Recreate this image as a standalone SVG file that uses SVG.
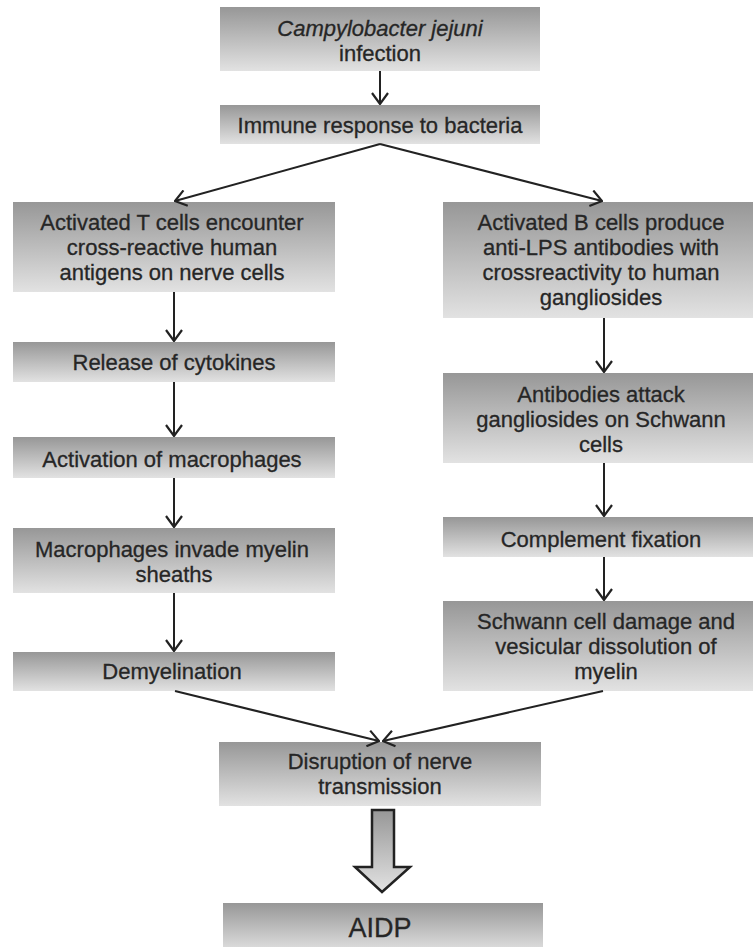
<svg xmlns="http://www.w3.org/2000/svg" width="753" height="947" viewBox="0 0 753 947">
<style>
  .box { fill: url(#g); }
  .t { font-family: "Liberation Sans", Arial, sans-serif; font-size: 22px; fill: #262626; stroke: #262626; stroke-width: 0.3; text-anchor: middle; }
  .c { stroke: #222; stroke-width: 2; fill: none; }
</style>
<defs>
  <linearGradient id="g" x1="0" y1="0" x2="0" y2="1">
    <stop offset="0" stop-color="#979797"/>
    <stop offset="1" stop-color="#e2e2e2"/>
  </linearGradient>
  <marker id="ah" markerUnits="userSpaceOnUse" viewBox="0 0 13 18" refX="12" refY="9" markerWidth="13" markerHeight="18" orient="auto">
    <path d="M1,1 L12,9 L1,17" fill="none" stroke="#222" stroke-width="2.2"/>
  </marker>
</defs>
<rect width="753" height="947" fill="#fff"/>

<g id="n1"><rect class="box" x="220" y="7" width="320" height="64"/>
<text class="t" x="380" y="36" font-style="italic">Campylobacter jejuni</text>
<text class="t" x="380" y="61">infection</text></g>

<g id="n2"><rect class="box" x="220" y="105" width="320" height="39"/>
<text class="t" x="380" y="133">Immune response to bacteria</text></g>

<g id="n3"><rect class="box" x="13" y="202" width="322" height="90"/>
<text class="t" x="172" y="230">Activated T cells encounter</text>
<text class="t" x="172" y="255">cross-reactive human</text>
<text class="t" x="172" y="280">antigens on nerve cells</text></g>

<g id="n4"><rect class="box" x="443" y="202" width="320" height="116"/>
<text class="t" x="601" y="230">Activated B cells produce</text>
<text class="t" x="601" y="255">anti-LPS antibodies with</text>
<text class="t" x="601" y="280">crossreactivity to human</text>
<text class="t" x="601" y="305">gangliosides</text></g>

<g id="n5"><rect class="box" x="13" y="342" width="322" height="40"/>
<text class="t" x="174" y="370">Release of cytokines</text></g>

<g id="n6"><rect class="box" x="443" y="373" width="320" height="90"/>
<text class="t" x="601" y="402">Antibodies attack</text>
<text class="t" x="601" y="427">gangliosides on Schwann</text>
<text class="t" x="601" y="452">cells</text></g>

<g id="n7"><rect class="box" x="13" y="437" width="322" height="41"/>
<text class="t" x="172" y="467">Activation of macrophages</text></g>

<g id="n8"><rect class="box" x="443" y="517" width="320" height="40"/>
<text class="t" x="601" y="547">Complement fixation</text></g>

<g id="n9"><rect class="box" x="13" y="528" width="322" height="65"/>
<text class="t" x="172" y="557">Macrophages invade myelin</text>
<text class="t" x="174" y="582">sheaths</text></g>

<g id="n10"><rect class="box" x="443" y="601" width="320" height="90"/>
<text class="t" x="606" y="629">Schwann cell damage and</text>
<text class="t" x="606" y="654">vesicular dissolution of</text>
<text class="t" x="606" y="679">myelin</text></g>

<g id="n11"><rect class="box" x="13" y="652" width="322" height="39"/>
<text class="t" x="172" y="679">Demyelination</text></g>

<g id="n12"><rect class="box" x="219" y="742" width="322" height="64"/>
<text class="t" x="380" y="769">Disruption of nerve</text>
<text class="t" x="380" y="794">transmission</text></g>

<g id="n13"><rect class="box" x="223" y="903" width="320" height="50"/>
<text class="t" x="380" y="937" style="font-size:27px">AIDP</text></g>

<g id="connectors">
  <line class="c" x1="380" y1="71" x2="380" y2="104" marker-end="url(#ah)"/>
  <line class="c" x1="380" y1="144" x2="175" y2="201" marker-end="url(#ah)"/>
  <line class="c" x1="380" y1="144" x2="602" y2="201" marker-end="url(#ah)"/>
  <line class="c" x1="174" y1="292" x2="174" y2="341" marker-end="url(#ah)"/>
  <line class="c" x1="174" y1="382" x2="174" y2="436" marker-end="url(#ah)"/>
  <line class="c" x1="174" y1="478" x2="174" y2="527" marker-end="url(#ah)"/>
  <line class="c" x1="174" y1="593" x2="174" y2="651" marker-end="url(#ah)"/>
  <line class="c" x1="604" y1="318" x2="604" y2="372" marker-end="url(#ah)"/>
  <line class="c" x1="604" y1="463" x2="604" y2="516" marker-end="url(#ah)"/>
  <line class="c" x1="604" y1="557" x2="604" y2="600" marker-end="url(#ah)"/>
  <line class="c" x1="175" y1="691" x2="379" y2="741" marker-end="url(#ah)"/>
  <line class="c" x1="603" y1="691" x2="383" y2="741" marker-end="url(#ah)"/>
  <path d="M372,810 L394,810 L394,867 L410,867 L382,892 L355,867 L372,867 Z" fill="url(#g)" stroke="#222" stroke-width="2.5" stroke-linejoin="miter"/>
</g>
</svg>
